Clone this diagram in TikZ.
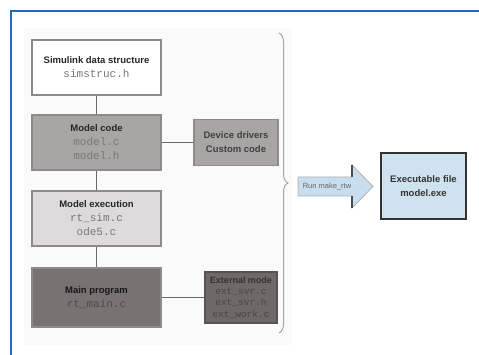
\documentclass[tikz,border=0pt]{standalone}
\usepackage{fontspec}
\setmainfont{Liberation Sans}
\setmonofont{Liberation Mono}
\usetikzlibrary{decorations.pathreplacing}
\definecolor{frameblue}{HTML}{1F6DB0}
\definecolor{panel}{HTML}{FAFAFA}
\definecolor{edge}{HTML}{8E8A8A}
\definecolor{midgray}{HTML}{AAA5A5}
\definecolor{lightgray}{HTML}{DCDADA}
\definecolor{darkgray}{HTML}{787272}
\definecolor{extgray}{HTML}{6E6868}
\definecolor{filegray}{HTML}{7A7676}
\definecolor{exeblue}{HTML}{CFE2EF}
\definecolor{arrowblue}{HTML}{C8DDED}
\definecolor{linegray}{HTML}{6A6666}
\tikzset{
  box/.style={draw=edge, line width=1.6pt, minimum width=129pt, minimum height=55pt,
    inner sep=0pt, align=center, font=\fontsize{9.5}{14}\selectfont, text=black!85},
  sidebox/.style={draw=edge, line width=1.2pt, inner sep=0pt, align=center},
  link/.style={draw=linegray, line width=1.4pt}
}
\newcommand{\fn}[1]{{\ttfamily\fontsize{11}{14}\selectfont\color{filegray}#1}}
\newcommand{\fnsmall}[1]{{\ttfamily\fontsize{9.5}{11.3}\selectfont\color{black!72}#1}}
\begin{document}
\begin{tikzpicture}[x=1pt,y=-1pt]
\useasboundingbox (0,0) rectangle (479,355);
\fill[white] (0,0) rectangle (479,355);
% frame
\draw[frameblue, line width=2pt] (11,355) -- (11,11) -- (479,11);
% faint panel
\fill[panel] (24,28) rectangle (292,345);

\node[box, fill=white] (sds) at (96.5,67.5)
  {\textbf{Simulink data structure}\\ \fn{simstruc.h}};
\node[box, fill=midgray] (mc) at (96.5,142.5)
  {\textbf{Model code}\\ \fn{model.c}\\ \fn{model.h}};
\node[box, fill=lightgray] (me) at (96.5,218.5)
  {\textbf{Model execution}\\ \fn{rt\_sim.c}\\ \fn{ode5.c}};
\node[box, fill=darkgray, minimum height=59pt, text=black!90] (mp) at (96.5,297.5)
  {\textbf{Main program}\\ {\ttfamily\fontsize{11}{14}\selectfont\color{black!70}rt\_main.c}};

\node[sidebox, fill=midgray, minimum width=84pt, minimum height=46pt,
  font=\bfseries\fontsize{9.5}{14}\selectfont, text=black!75] (dd) at (236,142.5)
  {Device drivers\\ Custom code};
\node[sidebox, draw=extgray!80!black, fill=extgray, minimum width=72pt, minimum height=51pt,
  font=\fontsize{9}{11.3}\selectfont, text=black!80] (em) at (241,297.5)
  {\textbf{External mode}\\ \fnsmall{ext\_svr.c}\\ \fnsmall{ext\_svr.h}\\ \fnsmall{ext\_work.c}};

\draw[link] (sds) -- (mc);
\draw[link] (mc) -- (me);
\draw[link] (me) -- (mp);
\draw[link] (mc) -- (dd);
\draw[link] (mp) -- (em);

% brace
\draw[black!35, line width=1pt, decorate, decoration={brace, amplitude=9pt, aspect=0.5}]
  (279,33) -- (279,333);

% block arrow
\path[fill=arrowblue, draw=black!30, line width=0.8pt]
  (298,177) -- (352,177) -- (352,165) -- (373,186.5) -- (352,208) -- (352,196) -- (298,196) -- cycle;
\draw[black!70, line width=1.4pt] (352,165) -- (352,177) (352,196) -- (352,208);
\node[font=\fontsize{7.5}{9}\selectfont, text=black!60] (lbl) at (327,186.5) {Run make\_rtw};

\node[draw=black!80, line width=2pt, fill=exeblue, minimum width=85pt, minimum height=66pt,
  inner sep=0pt, align=center, font=\bfseries\fontsize{9.5}{14}\selectfont, text=black!80] (exe)
  at (423.5,186.5) {Executable file\\ model.exe};
\end{tikzpicture}
\end{document}
